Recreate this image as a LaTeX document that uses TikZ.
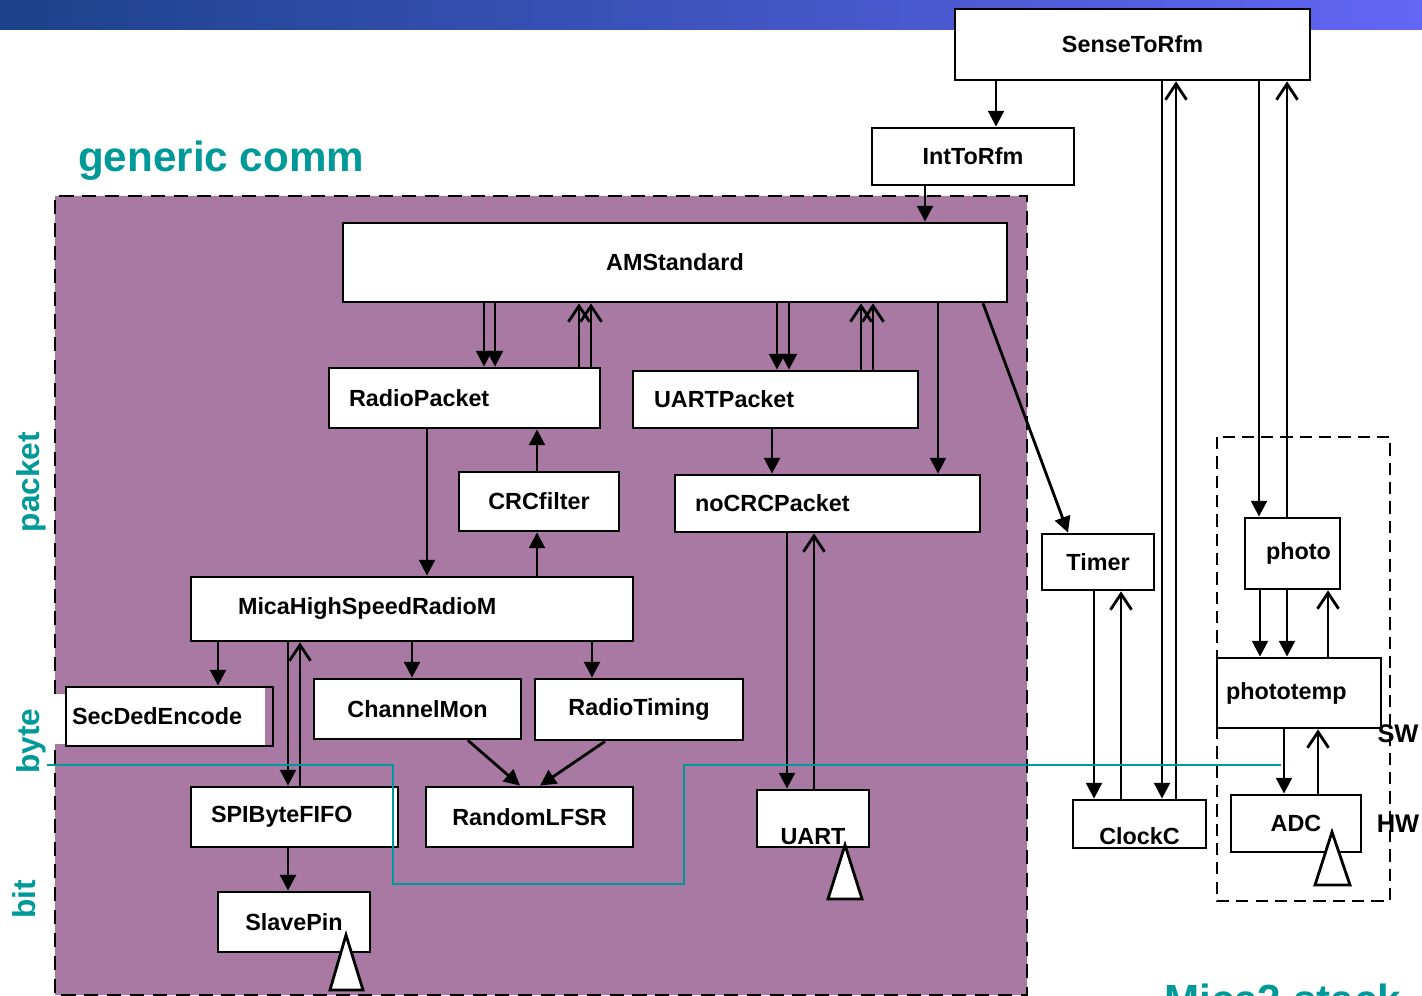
\documentclass[tikz,border=0pt]{standalone}
\usepackage{fontspec}
\setmainfont{Liberation Sans}
\usepackage{tikz}
\usetikzlibrary{positioning,calc,arrows.meta}
\definecolor{purplebg}{RGB}{168,121,163}
\definecolor{tealtxt}{RGB}{0,153,153}
\definecolor{barleft}{RGB}{28,66,138}
\definecolor{barright}{RGB}{99,102,245}
\tikzset{
	x=0.02cm, y=-0.02cm,% one unit is one pixel of the slide
	fwd/.style = {-{Triangle[length=9pt,width=9pt]}, line width=1.6pt}, % call, filled head
	bck/.style = {-{Straight Barb[length=9pt,width=12pt]}, line width=1.6pt}, % signal back, open head
	lft/.style = {align=left, text width=#1}, % text starts near the left edge
	layer/.style = {text=tealtxt, font=\fontsize{18}{20}\selectfont\bfseries, rotate=90}
}
\begin{document}
\begin{tikzpicture}
            \tikzset{my node/.style = {rectangle, draw, fill=white, line width=1.6pt, inner sep=0pt, font=\fontsize{13.3}{16}\selectfont\bfseries}}
            \tikzset{my dash/.style = {dashed, line width=1.6pt}}
            \useasboundingbox (0,0) rectangle (1422,996);
            % banner and the generic comm area
            \shade[left color=barleft, right color=barright] (0,0) rectangle (1422,30);
            \fill[purplebg] (55,196) -- (1027,196) -- (1027,995) -- (55,995) -- (55,744) -- (66,744) -- (66,694) -- (55,694) -- cycle;
            \draw[my dash, dash pattern=on 8pt off 5pt] (55,694) -- (55,196) -- (1027,196) -- (1027,995) -- (55,995) -- (55,744);
            \draw[my dash, dash pattern=on 7pt off 4pt] (1217,437) rectangle (1390,901);
            \node[text=tealtxt, font=\fontsize{24}{28}\selectfont\bfseries, anchor=base west] (title) at (72,172) {generic comm};
            \node[text=tealtxt, font=\fontsize{24}{28}\selectfont\bfseries, anchor=base west] (stack) at (1158,1014) {Mica2 stack};
            \node[layer] (packet) at (31,482) {packet};
            \node[layer] (byte) at (31,741) {byte};
            \node[layer] (bit) at (24,899) {bit};
            % components
            \node[my node, minimum width=7.10cm, minimum height=1.42cm] (sense) at (1132.5,44.5) {SenseToRfm};
            \node[my node, minimum width=4.04cm, minimum height=1.14cm] (int) at (973,156.5) {IntToRfm};
            \node[my node, minimum width=13.28cm, minimum height=1.58cm] (am) at (675,262.5) {AMStandard};
            \node[my node, lft=4.62cm, minimum width=5.42cm, minimum height=1.20cm] (rp) at (464.5,398) {RadioPacket};
            \node[my node, lft=4.86cm, minimum width=5.70cm, minimum height=1.14cm] (up) at (775.5,399.5) {UARTPacket};
            \node[my node, minimum width=3.20cm, minimum height=1.18cm] (crc) at (539,501.5) {CRCfilter};
            \node[my node, lft=5.30cm, minimum width=6.10cm, minimum height=1.14cm] (nocrc) at (827.5,503.5) {noCRCPacket};
            \node[my node, lft=6.96cm, minimum width=8.84cm, minimum height=1.28cm] (mica) at (412,609) {MicaHighSpeedRadioM};
            \node[my node, lft=3.90cm, minimum width=4.14cm, minimum height=1.18cm,
                  path picture={\fill[purplebg] ([xshift=-0.15cm]path picture bounding box.north east) rectangle (path picture bounding box.south east);}] (sec) at (169.5,716.5) {SecDedEncode};
            \node[my node, minimum width=4.14cm, minimum height=1.20cm] (chan) at (417.5,709) {ChannelMon};
            \node[my node, minimum width=4.16cm, minimum height=1.22cm] (rtim) at (639,709.5) {RadioTiming};
            \node[my node, lft=3.34cm, minimum width=4.14cm, minimum height=1.20cm] (spi) at (294.5,817) {SPIByteFIFO};
            \node[my node, minimum width=4.14cm, minimum height=1.20cm] (lfsr) at (529.5,817) {RandomLFSR};
            \node[my node, minimum width=3.04cm, minimum height=1.20cm] (slave) at (294,922) {SlavePin};
            \node[my node, text height=1.02cm, text depth=0pt, minimum width=2.24cm, minimum height=1.14cm] (uart) at (813,818.5) {UART};
            \node[my node, minimum width=2.24cm, minimum height=1.12cm] (timer) at (1098,562) {Timer};
            \node[my node, text height=0.82cm, text depth=0pt, minimum width=2.66cm, minimum height=0.96cm] (clock) at (1139.5,824) {ClockC};
            \node[my node, minimum width=1.90cm, minimum height=1.42cm] (photo) at (1292.5,553.5) {\hspace{0.24cm}photo};
            \node[my node, lft=2.92cm, minimum width=3.28cm, minimum height=1.40cm] (ptemp) at (1299,693) {phototemp};
            \node[my node, minimum width=2.60cm, minimum height=1.14cm] (adc) at (1296,823.5) {ADC};
            % wiring
            \draw[fwd] (996,0 |- sense.south) -- (996,0 |- int.north);
            \draw[fwd] (925,0 |- int.south) -- (925,0 |- am.north);
            \draw[fwd] (484,0 |- am.south) -- (484,0 |- rp.north);
            \draw[fwd] (495,0 |- am.south) -- (495,0 |- rp.north);
            \draw[bck] (579,0 |- rp.north) -- (579,0 |- am.south);
            \draw[bck] (591,0 |- rp.north) -- (591,0 |- am.south);
            \draw[fwd] (777,0 |- am.south) -- (777,0 |- up.north);
            \draw[fwd] (789,0 |- am.south) -- (789,0 |- up.north);
            \draw[bck] (861,0 |- up.north) -- (861,0 |- am.south);
            \draw[bck] (873,0 |- up.north) -- (873,0 |- am.south);
            \draw[fwd] (938,0 |- am.south) -- (938,0 |- nocrc.north);
            \draw[fwd] (983,0 |- am.south) -- (1068,0 |- timer.north);
            \draw[fwd] (427,0 |- rp.south) -- (427,0 |- mica.north);
            \draw[fwd] (537,0 |- mica.north) -- (537,0 |- crc.south);
            \draw[fwd] (537,0 |- crc.north) -- (537,0 |- rp.south);
            \draw[fwd] (772,0 |- up.south) -- (772,0 |- nocrc.north);
            \draw[fwd] (787,0 |- nocrc.south) -- (787,0 |- uart.north);
            \draw[bck] (814,0 |- uart.north) -- (814,0 |- nocrc.south);
            \draw[fwd] (218,0 |- mica.south) -- (218,0 |- sec.north);
            \draw[fwd] (412,0 |- mica.south) -- (412,0 |- chan.north);
            \draw[fwd] (592,0 |- mica.south) -- (592,0 |- rtim.north);
            \draw[fwd] (288,0 |- mica.south) -- (288,0 |- spi.north);
            \draw[bck] (300,0 |- spi.north) -- (300,0 |- mica.south);
            \draw[fwd] (468,0 |- chan.south) -- (520,0 |- lfsr.north);
            \draw[fwd] (605,0 |- rtim.south) -- (540,0 |- lfsr.north);
            \draw[fwd] (288,0 |- spi.south) -- (288,0 |- slave.north);
            \draw[fwd] (1162,0 |- sense.south) -- (1162,0 |- clock.north);
            \draw[bck] (1176,0 |- clock.north) -- (1176,0 |- sense.south);
            \draw[fwd] (1259,0 |- sense.south) -- (1259,0 |- photo.north);
            \draw[bck] (1287,0 |- photo.north) -- (1287,0 |- sense.south);
            \draw[fwd] (1094,0 |- timer.south) -- (1094,0 |- clock.north);
            \draw[bck] (1121,0 |- clock.north) -- (1121,0 |- timer.south);
            \draw[fwd] (1260,0 |- photo.south) -- (1260,0 |- ptemp.north);
            \draw[fwd] (1287,0 |- photo.south) -- (1287,0 |- ptemp.north);
            \draw[bck] (1328,0 |- ptemp.north) -- (1328,0 |- photo.south);
            \draw[fwd] (1284,0 |- ptemp.south) -- (1284,0 |- adc.north);
            \draw[bck] (1318,0 |- adc.north) -- (1318,0 |- ptemp.south);
            % hardware pins
            \draw[fill=white, line width=1.6pt] (346,935) -- (363,990) -- (330,990) -- cycle;
            \draw[fill=white, line width=1.6pt] (845,845) -- (862,899) -- (828,899) -- cycle;
            \draw[fill=white, line width=1.6pt] (1332,832) -- (1350,885) -- (1315,885) -- cycle;
            % software / hardware boundary
            \draw[tealtxt, line width=1.1pt] (47,765) -- (393,765) -- (393,884) -- (684,884) -- (684,765) -- (1281,765);
            \node[font=\fontsize{14.5}{17}\selectfont\bfseries] (sw) at (1398,734) {SW};
            \node[font=\fontsize{14.5}{17}\selectfont\bfseries] (hw) at (1398,824) {HW};
        \end{tikzpicture}
\end{document}
